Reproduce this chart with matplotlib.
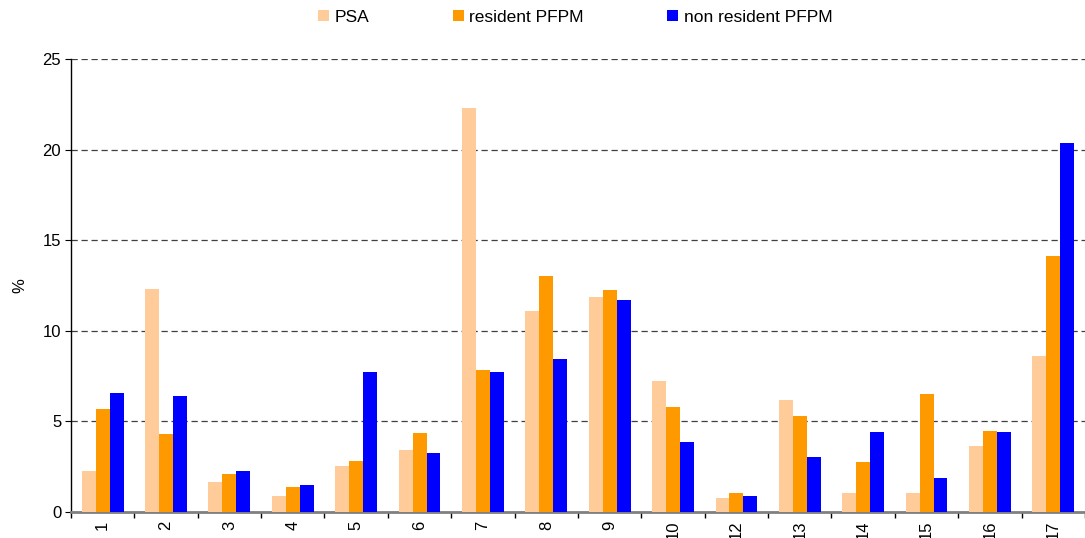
import numpy as np
import matplotlib
matplotlib.use("Agg")
from matplotlib import pyplot as plt

plt.rcParams['font.family'] = ['Liberation Sans', 'DejaVu Sans']

### data ###
groups = ['1', '2', '3', '4', '5', '6', '7', '8', '9', '10',
          '12', '13', '14', '15', '16', '17']
psa = [2.25, 12.3, 1.64, 0.87, 2.53, 3.41, 22.27, 11.1, 11.87, 7.23,
       0.76, 6.18, 1.03, 1.03, 3.64, 8.61]
resident = [5.67, 4.30, 2.09, 1.37, 2.80, 4.35, 7.84, 13.04, 12.26, 5.80,
            1.03, 5.29, 2.75, 6.51, 4.46, 14.14]
non_resident = [6.55, 6.40, 2.25, 1.48, 7.73, 3.25, 7.73, 8.45, 11.70, 3.87,
                0.87, 3.02, 4.41, 1.86, 4.41, 20.34]
series_names = ['PSA', 'resident PFPM', 'non resident PFPM']
### -------------- ###

colors = ['#FFCC99', '#FF9900', '#0000FF']
w = 0.22
x = np.arange(len(groups))

fig = plt.figure(figsize=(10.85, 5.38), dpi=100)
ax = fig.add_axes([0.0654, 0.0483, 0.9346, 0.842])

for k, vals in enumerate([psa, resident, non_resident]):
    ax.bar(x + (k - 1) * w, vals, width=w, color=colors[k],
           label=series_names[k], zorder=3)

ax.set_xlim(-0.5, len(groups) - 0.5)
ax.set_ylim(0, 25)
ax.set_yticks([0, 5, 10, 15, 20, 25])
ax.yaxis.grid(True, linestyle=(0, (5, 3)), color='#404040', linewidth=0.9, zorder=1)

# x labels centered on groups, tick marks at group boundaries
ax.set_xticks(x)
ax.set_xticklabels(groups, rotation=90, fontsize=12)
ax.tick_params(axis='x', which='major', length=0, pad=6)
ax.set_xticks(np.arange(len(groups) + 1) - 0.5, minor=True)
ax.tick_params(axis='x', which='minor', length=4, width=1, color='black', direction='out')
ax.tick_params(axis='y', labelsize=12, length=4, pad=3, direction='out')

for s in ['top', 'right']:
    ax.spines[s].set_visible(False)
ax.spines['bottom'].set_color('#808080')
ax.spines['bottom'].set_linewidth(2)
ax.spines['left'].set_linewidth(1)

ax.set_ylabel('%', fontsize=12, labelpad=11)

fig.legend(loc='center', bbox_to_anchor=(0.53, 0.968), ncol=3, frameon=False,
           fontsize=12.5, handlelength=0.66, handleheight=0.66, handletextpad=0.3,
           columnspacing=4.8)

fig.savefig('out.png', dpi=100)
